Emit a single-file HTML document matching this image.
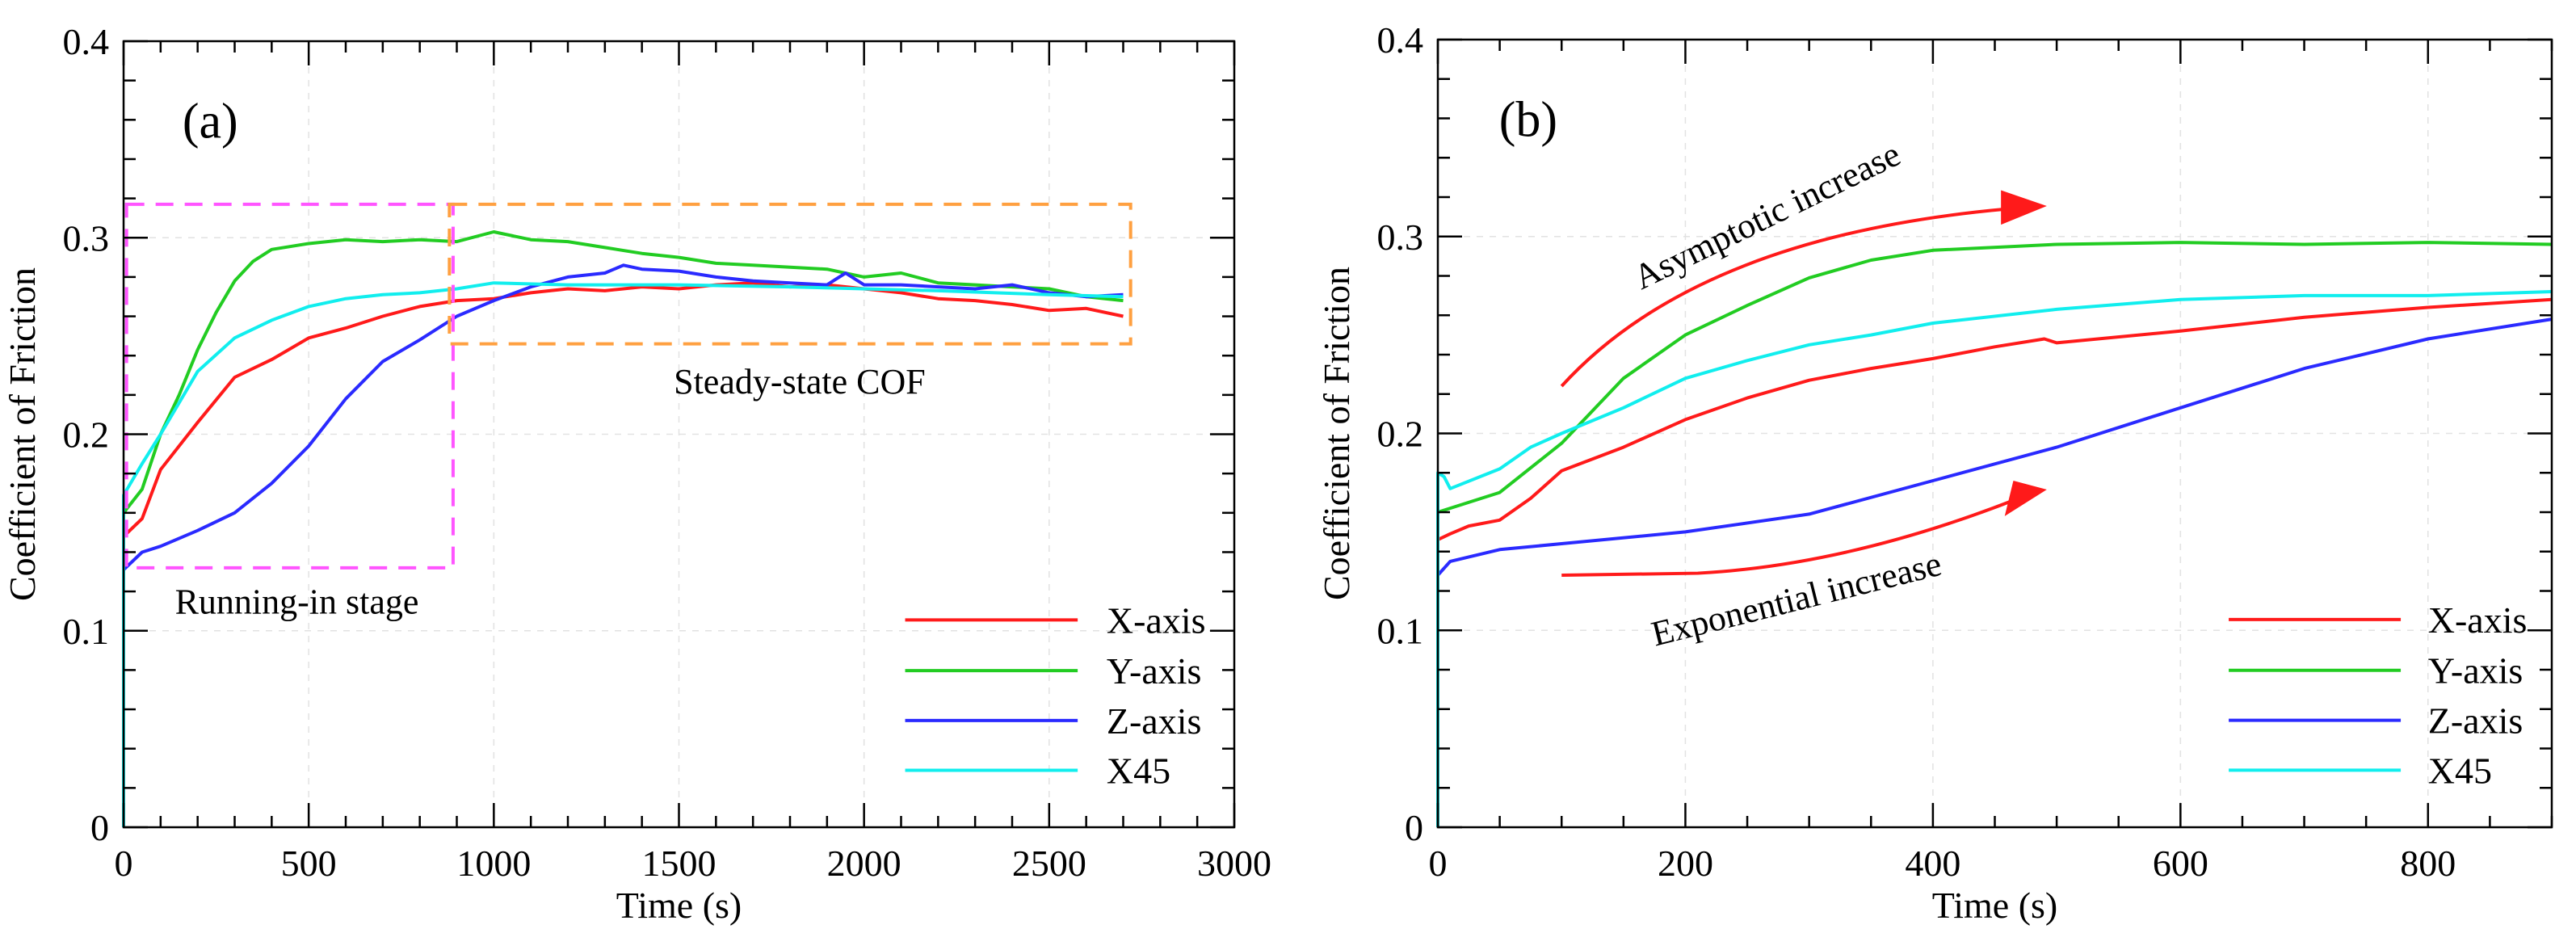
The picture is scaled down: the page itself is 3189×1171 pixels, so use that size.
<!DOCTYPE html>
<html><head><meta charset="utf-8"><style>
html,body{margin:0;padding:0;background:#fff;}
svg{display:block;font-family:"Liberation Serif",serif;}
</style></head><body>
<svg id="chart" width="3189" height="1171" viewBox="0 0 3189 1171" xmlns="http://www.w3.org/2000/svg"></svg>
<script>
// ---- Panel (a) data ----
const aXTime = [0,50,100,200,300,400,500,600,700,800,900,1000,1100,1200,1300,1400,1500,1600,1700,1800,1900,2000,2100,2200,2300,2400,2500,2600,2700];
const aXVals = [0.148,0.157,0.182,0.206,0.229,0.238,0.249,0.254,0.26,0.265,0.268,0.269,0.272,0.274,0.273,0.275,0.274,0.276,0.277,0.275,0.276,0.274,0.272,0.269,0.268,0.266,0.263,0.264,0.26];
const aYTime = [0,50,100,150,200,250,300,350,400,500,600,700,800,900,1000,1100,1200,1300,1400,1500,1600,1700,1800,1900,2000,2100,2200,2300,2400,2500,2600,2700];
const aYVals = [0.16,0.172,0.2,0.22,0.243,0.262,0.278,0.288,0.294,0.297,0.299,0.298,0.299,0.298,0.303,0.299,0.298,0.295,0.292,0.29,0.287,0.286,0.285,0.284,0.28,0.282,0.277,0.276,0.275,0.274,0.27,0.268];
const aZTime = [0,50,100,200,300,400,500,600,700,800,900,1000,1100,1200,1300,1350,1400,1500,1600,1700,1800,1900,1950,2000,2100,2200,2300,2400,2500,2600,2700];
const aZVals = [0.131,0.14,0.143,0.151,0.16,0.175,0.194,0.218,0.237,0.248,0.26,0.268,0.275,0.28,0.282,0.286,0.284,0.283,0.28,0.278,0.277,0.276,0.282,0.276,0.276,0.275,0.274,0.276,0.272,0.27,0.271];
const a45Time = [0,50,100,200,300,400,500,600,700,800,900,1000,1200,1500,1800,2000,2200,2500,2700];
const a45Vals = [0.169,0.185,0.2,0.232,0.249,0.258,0.265,0.269,0.271,0.272,0.274,0.277,0.276,0.276,0.275,0.274,0.273,0.271,0.27];
// ---- Panel (b) data ----
const bXTime = [0,10,25,50,75,100,150,200,250,300,350,400,450,490,500,600,700,800,900];
const bXVals = [0.146,0.149,0.153,0.156,0.167,0.181,0.193,0.207,0.218,0.227,0.233,0.238,0.244,0.248,0.246,0.252,0.259,0.264,0.268];
const bYTime = [0,10,50,100,150,200,250,300,350,400,500,600,700,800,900];
const bYVals = [0.16,0.162,0.17,0.195,0.228,0.25,0.265,0.279,0.288,0.293,0.296,0.297,0.296,0.297,0.296];
const bZTime = [0,10,50,100,200,300,400,500,600,700,800,900];
const bZVals = [0.128,0.135,0.141,0.144,0.15,0.159,0.176,0.193,0.213,0.233,0.248,0.258];
const b45Time = [0,5,10,50,75,100,150,200,250,300,350,400,500,600,700,800,900];
const b45Vals = [0.18,0.178,0.172,0.182,0.193,0.2,0.213,0.228,0.237,0.245,0.25,0.256,0.263,0.268,0.27,0.27,0.272];
const yTicks = [0,0.1,0.2,0.3,0.4];
const aXTicks = [0,500,1000,1500,2000,2500,3000];
const bXTicks = [0,200,400,600,800];
const seriesNames = ["X-axis","Y-axis","Z-axis","X45"];
const seriesColors = ["#ff1a1a","#22cc22","#2a2aff","#11eeee"];

const NS="http://www.w3.org/2000/svg";
const svg=document.getElementById('chart');
function el(tag,attrs,parent,text){const e=document.createElementNS(NS,tag);for(const k in attrs)e.setAttribute(k,attrs[k]);if(text!==undefined)e.textContent=text;(parent||svg).appendChild(e);return e;}

function panel(id,L,R,T,B,xmax,xTicks,minorStep,series,cfg){
  const g=el('g',{});
  
  
  const sx=v=>L+(R-L)*v/xmax, sy=v=>B-(B-T)*v/0.4;
  // grid
  xTicks.forEach(t=>{if(t>0&&t<xmax){const l=el('line',{x1:sx(t),x2:sx(t),y1:T,y2:B,stroke:'#e2e2e2','stroke-width':1.5,'stroke-dasharray':'8,8'},g);}});
  yTicks.forEach(t=>{if(t>0&&t<0.4){const l=el('line',{x1:L,x2:R,y1:sy(t),y2:sy(t),stroke:'#e2e2e2','stroke-width':1.5,'stroke-dasharray':'8,8'},g);}});
  // series
  series.forEach((s,i)=>{
    let d='M'+sx(0)+','+sy(0);
    s[0].forEach((t,j)=>{d+=' L'+sx(t).toFixed(1)+','+sy(s[1][j]).toFixed(1);});
    const p=el('path',{d:d,fill:'none',stroke:seriesColors[i],'stroke-width':4,'stroke-linejoin':'round'},g);
    
    
  });
  cfg.extra(g,sx,sy);
  // frame
  const fr=el('rect',{x:L,y:T,width:R-L,height:B-T,fill:'none',stroke:'#000','stroke-width':2.5},g);
  
  
  // x ticks
  for(let t=0;t<=xmax+1e-9;t+=minorStep){
    const major=xTicks.indexOf(t)>=0, len=major?30:14;
    el('line',{x1:sx(t),x2:sx(t),y1:B,y2:B-len,stroke:'#000','stroke-width':2.5},g);
    el('line',{x1:sx(t),x2:sx(t),y1:T,y2:T+len,stroke:'#000','stroke-width':2.5},g);
  }
  for(let k=0;k<=20;k++){const v=k*0.02;const major=k%5===0,len=major?30:15;
    el('line',{x1:L,x2:L+len,y1:sy(v),y2:sy(v),stroke:'#000','stroke-width':2.5},g);
    el('line',{x1:R,x2:R-len,y1:sy(v),y2:sy(v),stroke:'#000','stroke-width':2.5},g);}
  xTicks.forEach(t=>{const tx=el('text',{x:sx(t),y:B+60,'font-size':46,'text-anchor':'middle'},g,String(t));
    });
  yTicks.forEach(t=>{const tx=el('text',{x:L-18,y:sy(t)+16,'font-size':46,'text-anchor':'end'},g,t===0?'0':t.toFixed(1));
    });
  const xt=el('text',{x:(L+R)/2,y:B+112,'font-size':46,'text-anchor':'middle'},g,'Time (s)');
  
  const yt=el('text',{x:0,y:0,'font-size':46,'text-anchor':'middle',transform:'translate('+(L-110)+','+((T+B)/2)+') rotate(-90)'},g,'Coefficient of Friction');
  
  // legend
  const legY=[0.1055,0.0797,0.0543,0.029];
  seriesNames.forEach((n,i)=>{
    const lg=el('g',{},g);
    
    
    el('line',{x1:sx(cfg.leg[0]),x2:sx(cfg.leg[1]),y1:sy(legY[i]),y2:sy(legY[i]),stroke:seriesColors[i],'stroke-width':4},lg);
    el('text',{x:sx(cfg.leg[2]),y:sy(legY[i])+16,'font-size':46},lg,n);
  });
  return {sx,sy};
}

panel('panel-a',153,1528,51,1024,3000,aXTicks,100,
 [[aXTime,aXVals],[aYTime,aYVals],[aZTime,aZVals],[a45Time,a45Vals]],
 {leg:[2111,2577,2655],extra:(g,sx,sy)=>{
   const m=el('rect',{x:sx(8),y:sy(0.317),width:sx(890)-sx(8),height:sy(0.132)-sy(0.317),fill:'none',stroke:'#ff55ff','stroke-width':4,'stroke-dasharray':'22,14'},g);
   
   const o=el('rect',{x:sx(880),y:sy(0.317),width:sx(2720)-sx(880),height:sy(0.246)-sy(0.317),fill:'none',stroke:'#ffa040','stroke-width':4,'stroke-dasharray':'22,14'},g);
   
   const t1=el('text',{x:sx(468),y:sy(0.115)+15,'font-size':44,'text-anchor':'middle'},g,'Running-in stage');
   
   const t2=el('text',{x:sx(1826),y:sy(0.227)+15,'font-size':44,'text-anchor':'middle'},g,'Steady-state COF');
   
   const pl=el('text',{x:sx(234),y:sy(0.36)+22,'font-size':62,'text-anchor':'middle'},g,'(a)');
   
 }});

panel('panel-b',1780,3159,49,1024,900,bXTicks,50,
 [[bXTime,bXVals],[bYTime,bYVals],[bZTime,bZVals],[b45Time,b45Vals]],
 {leg:[639,778,800],extra:(g,sx,sy)=>{
   const a1=el('path',{d:'M'+sx(100)+','+sy(0.224)+' Q'+sx(210)+','+sy(0.3)+' '+sx(460)+','+sy(0.314),fill:'none',stroke:'#ff1a1a','stroke-width':4},g);
   
   el('polygon',{points:sx(492)+','+sy(0.3155)+' '+sx(455)+','+sy(0.3235)+' '+sx(455)+','+sy(0.306),fill:'#ff1a1a'},g);
   const a2=el('path',{d:'M'+sx(100)+','+sy(0.128)+' L'+sx(210)+','+sy(0.129)+' Q'+sx(330)+','+sy(0.133)+' '+sx(465)+','+sy(0.166),fill:'none',stroke:'#ff1a1a','stroke-width':4},g);
   
   el('polygon',{points:sx(492)+','+sy(0.1715)+' '+sx(465)+','+sy(0.176)+' '+sx(458)+','+sy(0.158),fill:'#ff1a1a'},g);
   const t1=el('text',{x:0,y:0,'font-size':44,'text-anchor':'middle',transform:'translate('+sx(270)+','+(sy(0.311)+14)+') rotate(-26)'},g,'Asymptotic increase');
   
   const t2=el('text',{x:0,y:0,'font-size':44,'text-anchor':'middle',transform:'translate('+sx(292)+','+(sy(0.116)+14)+') rotate(-14)'},g,'Exponential increase');
   
   const pl=el('text',{x:sx(73),y:sy(0.36)+22,'font-size':62,'text-anchor':'middle'},g,'(b)');
   
 }});
</script>
</body></html>
